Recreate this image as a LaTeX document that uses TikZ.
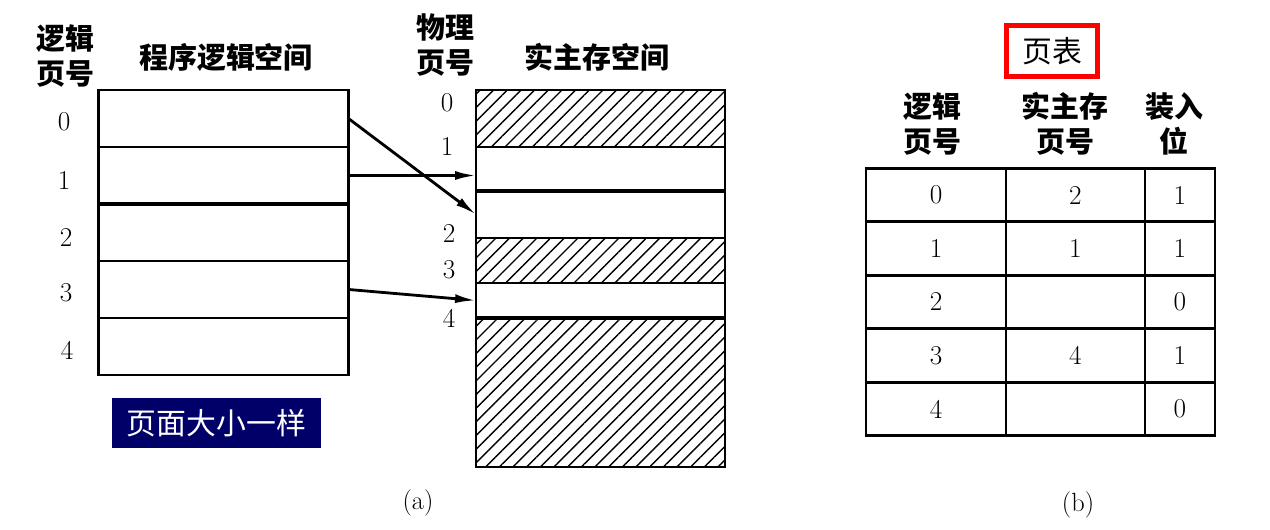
\documentclass[tikz,border=0pt]{standalone}
\usepackage{fontspec}
\newfontfamily\cjk{Noto Sans CJK SC}
\usepackage{xcolor}
\usepackage{tikz}
\usetikzlibrary{arrows.meta, positioning, patterns.meta}
\definecolor{navy}{RGB}{0,0,104}

\begin{document}
\begin{tikzpicture}[
  x=0.02cm, y=-0.02cm,
  lpage/.style  = {rectangle, draw, line width=1.5pt, outer sep=0pt, inner sep=0pt,
                   minimum width=5cm, minimum height=1.14cm},
  frame/.style  = {rectangle, draw, line width=1.5pt, outer sep=0pt, inner sep=0pt,
                   minimum width=4.98cm},
  used/.style   = {frame, pattern={Lines[angle=45, distance=5.5pt, line width=0.8pt]}},
  num/.style    = {font=\fontsize{15.5}{17}\selectfont},
  head/.style   = {font=\fontsize{16.5}{20}\selectfont\cjk\bfseries, align=center},
  cell/.style   = {rectangle, draw, line width=1.5pt, outer sep=0pt,
                   minimum height=1.07cm, font=\fontsize{15.5}{17}\selectfont},
  colA/.style   = {cell, minimum width=2.8cm},
  colB/.style   = {cell, minimum width=2.78cm},
  colC/.style   = {cell, minimum width=1.4cm},
  arr/.style    = {-{Latex[length=0.42cm, width=0.18cm]}, line width=1.6pt}
]
\useasboundingbox[fill=white] (0,0) rectangle (1270,529);

% (a) logical space
\node[head] (lhead) at (65,56) {逻辑\\页号};
\node[head] (ltitle) at (226,57) {程序逻辑空间};

\node[lpage] (l0) at (223.5,118.5) {};
\node[lpage, below=0pt of l0] (l1) {};
\node[lpage, below=0pt of l1] (l2) {};
\node[lpage, below=0pt of l2] (l3) {};
\node[lpage, below=0pt of l3] (l4) {};
\draw[line width=2.2pt] (l1.south west) -- (l1.south east);

\node[num] (ln0) at (64,122) {0};
\node[num] (ln1) at (64,180) {1};
\node[num] (ln2) at (66,237) {2};
\node[num] (ln3) at (66,293) {3};
\node[num] (ln4) at (67,350) {4};

\node[rectangle, fill=navy, text=white, minimum width=4.18cm, minimum height=1cm,
      font=\fontsize{17}{20}\selectfont\cjk] (same) at (216.5,423) {页面大小一样};

% physical memory
\node[head] (mhead) at (445,45) {物理\\页号};
\node[head] (mtitle) at (597,57) {实主存空间};

\node[used, minimum height=1.14cm] (m0) at (600.5,118.5) {};
\node[frame, minimum height=0.88cm, below=0pt of m0] (m1) {};
\node[frame, minimum height=0.94cm, below=0pt of m1] (m2) {};
\node[used, minimum height=0.9cm, below=0pt of m2] (m3) {};
\node[frame, minimum height=0.7cm, below=0pt of m3] (m4) {};
\node[used, minimum height=2.98cm, below=0pt of m4] (m5) {};
\draw[line width=2.4pt] (m1.south west) -- (m1.south east);
\draw[line width=2pt] (m4.south west) -- (m4.south east);

\node[num] (mn0) at (447,103) {0};
\node[num] (mn1) at (447,146) {1};
\node[num] (mn2) at (449,233) {2};
\node[num] (mn3) at (449,270) {3};
\node[num] (mn4) at (449,318) {4};

\draw[arr] (l0.east) -- (m2.west);
\draw[arr] (l1.east) -- (l1.east -| m1.west);
\draw[arr] (l3.east) -- (m4.west);

\node[font=\fontsize{15}{17}\selectfont] (capa) at (418,503) {(a)};

% (b) page table
\node[rectangle, draw=red, line width=2.5pt, minimum width=1.82cm, minimum height=1.02cm,
      font=\fontsize{17}{20}\selectfont\cjk] (ptitle) at (1052,51) {页表};

\node[head] (h1) at (932,124) {逻辑\\页号};
\node[head] (h2) at (1065,124) {实主存\\页号};
\node[head] (h3) at (1174,124) {装入\\位};

\node[colA] (t0a) at (936,195) {0};
\node[colB, right=0pt of t0a] (t0b) {2};
\node[colC, right=0pt of t0b] (t0c) {1};
\node[colA, below=0pt of t0a] (t1a) {1};
\node[colB, right=0pt of t1a] (t1b) {1};
\node[colC, right=0pt of t1b] (t1c) {1};
\node[colA, below=0pt of t1a] (t2a) {2};
\node[colB, right=0pt of t2a] (t2b) {};
\node[colC, right=0pt of t2b] (t2c) {0};
\node[colA, below=0pt of t2a] (t3a) {3};
\node[colB, right=0pt of t3a] (t3b) {4};
\node[colC, right=0pt of t3b] (t3c) {1};
\node[colA, below=0pt of t3a] (t4a) {4};
\node[colB, right=0pt of t4a] (t4b) {};
\node[colC, right=0pt of t4b] (t4c) {0};

\node[font=\fontsize{15}{17}\selectfont] (capb) at (1078,505) {(b)};

\end{tikzpicture}
\end{document}
